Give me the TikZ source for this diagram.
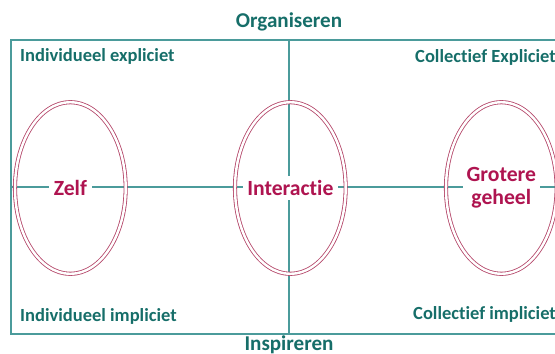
\documentclass[tikz,border=0pt]{standalone}
\usepackage{fontspec}
\setmainfont{Carlito}[Ligatures=NoCommon]
\usetikzlibrary{shapes.geometric, positioning}

\definecolor{labelteal}{HTML}{166E69}
\definecolor{lineteal}{HTML}{4B9B9B}
\definecolor{ringred}{HTML}{B44669}
\definecolor{wordred}{HTML}{AF1450}

\begin{document}
\begin{tikzpicture}[
    axisline/.style={
        draw=lineteal,
        line width=1.1pt
    },
    kader/.style={
        rectangle,
        draw=lineteal,
        line width=1.1pt,
        minimum width=16.68cm,
        minimum height=8.82cm,
        inner sep=0pt
    },
    ring/.style={
        ellipse,
        draw=ringred,
        line width=0.7pt,
        double=white,
        double distance=2.1pt,
        minimum width=3.32cm,
        minimum height=5.15cm,
        inner sep=0pt
    },
    kern/.style={
        fill=white,
        text=wordred,
        align=center,
        inner sep=4pt,
        font=\fontsize{18.5}{19.5}\selectfont\bfseries
    },
    corner/.style={
        anchor=base west,
        inner sep=0pt,
        text=labelteal,
        font=\fontsize{15.8}{18}\selectfont\bfseries
    },
    pole/.style={
        anchor=base,
        inner sep=0pt,
        text=labelteal,
        font=\fontsize{18}{20}\selectfont\bfseries
    }
]

\useasboundingbox (0,0) rectangle (16.65,10.62);
\clip (0,0) rectangle (16.65,10.62);

% ============================================
% Frame with the two axes
% ============================================
\node[kader] (vlak) at (8.67,5.01) {};

\draw[axisline] (vlak.north) -- (vlak.south);
\draw[axisline] (vlak.west) -- (vlak.east);

\node[pole] (organiseren) at (8.67,9.78) {Organiseren};
\node[pole] (inspireren) at (8.67,0.12) {Inspireren};

% Quadrant labels
\node[corner] (indexpl) at (0.6,8.76) {Individueel expliciet};
\node[corner] (colexpl) at (12.45,8.73) {Collectief Expliciet};
\node[corner] (indimpl) at (0.6,0.96) {Individueel impliciet};
\node[corner] (colimpl) at (12.39,1.02) {Collectief impliciet};

% ============================================
% The three rings
% ============================================
\node[ring] (zelf) at (2.11,4.98) {};
\node[ring] (interactie) at (8.71,4.98) {};
\node[ring] (geheel) at (15.04,4.98) {};

\node[kern] (zelftekst) at (zelf) {Zelf};
\node[kern] (interactietekst) at (interactie) {Interactie};
\node[kern, inner sep=3pt] (geheeltekst) at (geheel) {Grotere\\geheel};

\end{tikzpicture}
\end{document}
